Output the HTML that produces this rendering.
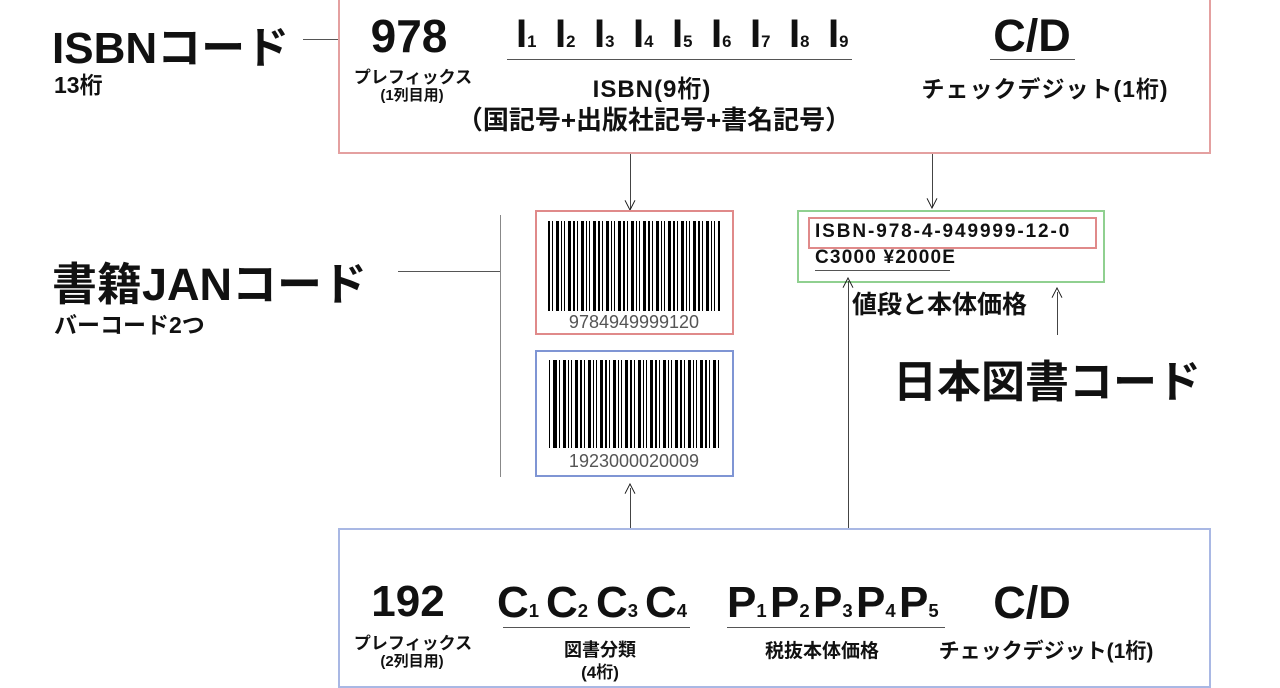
<!DOCTYPE html>
<html><head><meta charset="utf-8"><style>
body{margin:0;width:1280px;height:669px;overflow:hidden;background:#fff;position:relative;font-family:"Liberation Sans","Noto Sans CJK JP",sans-serif;color:#111;font-weight:bold}
.a{position:absolute;white-space:nowrap}
.c{position:absolute;white-space:nowrap;transform:translateX(-50%)}
.box{position:absolute;box-sizing:border-box}
.hl{position:absolute;height:1px;background:#555}
.vl{position:absolute;width:1px;background:#444}
.bars{position:absolute;background:repeating-linear-gradient(90deg,#000 0 2px,#fff 2px 4px,#000 4px 5px,#fff 5px 8px,#000 8px 11px,#fff 11px 13px,#000 13px 14px,#fff 14px 16px,#000 16px 17px,#fff 17px 20px,#000 20px 23px,#fff 23px 25px)}
sub{font-size:0.42em;vertical-align:baseline}
.ar{position:absolute;font-size:14px;font-weight:normal;transform:translateX(-50%);line-height:1}
.I{position:absolute;top:12px;font-size:40px}
.B{position:absolute;top:578px;font-size:44px;transform:scaleX(1.0);transform-origin:left}
</style></head><body>
<div class="box" style="left:338px;top:-4px;width:873px;height:158px;border:2px solid #e4a0a0"></div>
<div class="a" style="left:52px;top:12px;font-size:44px">ISBNコード</div>
<div class="a" style="left:54px;top:66px;font-size:23px">13桁</div>
<div class="hl" style="left:303px;top:39px;width:35px"></div>
<div class="c" style="left:409px;top:9px;font-size:46px">978</div>
<div class="c" style="left:413px;top:63px;font-size:17px">プレフィックス</div>
<div class="c" style="left:412px;top:84px;font-size:15px">(1列目用)</div>
<div class="I" style="left:516px">I<sub>1</sub></div>
<div class="I" style="left:555px">I<sub>2</sub></div>
<div class="I" style="left:594px">I<sub>3</sub></div>
<div class="I" style="left:633px">I<sub>4</sub></div>
<div class="I" style="left:672px">I<sub>5</sub></div>
<div class="I" style="left:711px">I<sub>6</sub></div>
<div class="I" style="left:750px">I<sub>7</sub></div>
<div class="I" style="left:789px">I<sub>8</sub></div>
<div class="I" style="left:828px">I<sub>9</sub></div>
<div class="hl" style="left:507px;top:59px;width:345px"></div>
<div class="c" style="left:652px;top:69px;font-size:24px;letter-spacing:1px">ISBN(9桁)</div>
<div class="c" style="left:654px;top:100px;font-size:26px">（国記号+出版社記号+書名記号）</div>
<div class="c" style="left:1032px;top:10px;font-size:45px">C/D</div>
<div class="hl" style="left:990px;top:59px;width:85px"></div>
<div class="c" style="left:1045px;top:70px;font-size:23px;letter-spacing:1px">チェックデジット(1桁)</div>
<div class="vl" style="left:630px;top:154px;height:55px"></div><div class="ar" style="left:630px;top:199px">∨</div>
<div class="vl" style="left:932px;top:154px;height:53px"></div><div class="ar" style="left:932px;top:197px">∨</div>
<div class="a" style="left:52px;top:248px;font-size:45px">書籍JANコード</div>
<div class="a" style="left:54px;top:306px;font-size:23px">バーコード2つ</div>
<div class="hl" style="left:398px;top:271px;width:102px"></div>
<div class="vl" style="left:500px;top:215px;height:262px;background:#888"></div>
<div class="box" style="left:535px;top:210px;width:199px;height:125px;border:2px solid #e08a8a"></div>
<div class="bars" style="left:548px;top:221px;width:172px;height:90px"></div>
<div class="c" style="left:634px;top:312px;font-size:18px;font-weight:normal;color:#555">9784949999120</div>
<div class="box" style="left:535px;top:350px;width:199px;height:127px;border:2px solid #7f95d4"></div>
<div class="bars" style="left:548px;top:360px;width:172px;height:88px;background-position:7px 0"></div>
<div class="c" style="left:634px;top:451px;font-size:18px;font-weight:normal;color:#555">1923000020009</div>
<div class="box" style="left:797px;top:210px;width:308px;height:73px;border:2px solid #90d090"></div>
<div class="box" style="left:808px;top:217px;width:289px;height:32px;border:2px solid #e08a8a"></div>
<div class="a" style="left:815px;top:221px;font-size:19px;letter-spacing:1.9px">ISBN-978-4-949999-12-0</div>
<div class="a" style="left:815px;top:247px;font-size:19px;letter-spacing:1.2px">C3000 ¥2000E</div>
<div class="hl" style="left:815px;top:270px;width:135px"></div>
<div class="a" style="left:852px;top:285px;font-size:25px">値段と本体価格</div>
<div class="vl" style="left:1057px;top:292px;height:43px"></div><div class="ar" style="left:1057px;top:286px">∧</div>
<div class="a" style="left:893px;top:346px;font-size:44px">日本図書コード</div>
<div class="vl" style="left:848px;top:281px;height:247px"></div><div class="ar" style="left:848px;top:276px">∧</div>
<div class="vl" style="left:630px;top:488px;height:40px"></div><div class="ar" style="left:630px;top:482px">∧</div>
<div class="box" style="left:338px;top:528px;width:873px;height:160px;border:2px solid #a9b8e4"></div>
<div class="c" style="left:408px;top:577px;font-size:44px">192</div>
<div class="c" style="left:413px;top:629px;font-size:17px">プレフィックス</div>
<div class="c" style="left:412px;top:650px;font-size:15px">(2列目用)</div>
<div class="B" style="left:497px">C<sub>1</sub></div>
<div class="B" style="left:546px">C<sub>2</sub></div>
<div class="B" style="left:596px">C<sub>3</sub></div>
<div class="B" style="left:645px">C<sub>4</sub></div>
<div class="hl" style="left:503px;top:627px;width:187px"></div>
<div class="c" style="left:600px;top:636px;font-size:18px">図書分類</div>
<div class="c" style="left:600px;top:658px;font-size:17px">(4桁)</div>
<div class="B" style="left:727px">P<sub>1</sub></div>
<div class="B" style="left:770px">P<sub>2</sub></div>
<div class="B" style="left:813px">P<sub>3</sub></div>
<div class="B" style="left:856px">P<sub>4</sub></div>
<div class="B" style="left:899px">P<sub>5</sub></div>
<div class="hl" style="left:727px;top:627px;width:218px"></div>
<div class="c" style="left:822px;top:636px;font-size:19px">税抜本体価格</div>
<div class="c" style="left:1032px;top:577px;font-size:45px">C/D</div>
<div class="c" style="left:1046px;top:635px;font-size:21px">チェックデジット(1桁)</div>
</body></html>
